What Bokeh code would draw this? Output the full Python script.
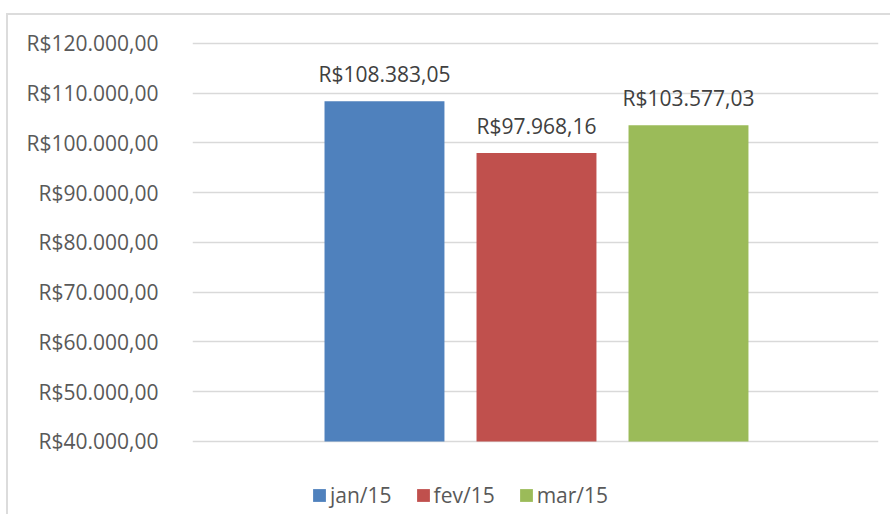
from bokeh.plotting import figure
from bokeh.models import ColumnDataSource, Range1d, FixedTicker, Legend, LegendItem, LabelSet
from bokeh.core.properties import value
from bokeh.embed import file_html
from bokeh.resources import INLINE

# ---- data ----
months = ["jan/15", "fev/15", "mar/15"]
revenue = [108383.05, 97968.16, 103577.03]
colors = ["#4F81BD", "#C0504D", "#9BBB59"]
y_ticks = [40000, 50000, 60000, 70000, 80000, 90000, 100000, 110000, 120000]
baseline = 40000


def brl(v):
    s = f"{v:,.2f}"
    s = s.replace(",", "X").replace(".", ",").replace("X", ".")
    return "R$" + s


FONT = "Open Sans"
FS = "21px"

src = ColumnDataSource(dict(
    x=list(range(len(months))),
    top=revenue,
    label=[brl(v) for v in revenue],
))

p = figure(
    width=884, height=501,
    output_backend="svg", toolbar_location=None,
    x_range=Range1d(-1.263, 3.25),
    y_range=Range1d(24925, 121000),
    min_border_left=184, min_border_right=14,
    min_border_top=23, min_border_bottom=0,
    outline_line_color=None,
)
p.styles = {
    "border-left": "2px solid #dcdcdc",
    "border-top": "2px solid #dcdcdc",
    "margin-left": "6px",
    "margin-top": "13px",
}

renderers = []
for i, m in enumerate(months):
    view_src = ColumnDataSource(dict(x=[i], top=[revenue[i]]))
    r = p.vbar(x="x", top="top", bottom=baseline, width=0.789, source=view_src,
               fill_color=colors[i], line_color=None)
    renderers.append(r)

labels = LabelSet(x="x", y="top", text="label", source=src,
                  text_align="center", text_baseline="alphabetic", y_offset=19,
                  text_font=value(FONT), text_font_size=FS, text_color="#404040")
p.add_layout(labels)

# axes
p.xaxis.visible = False
p.yaxis.ticker = FixedTicker(ticks=y_ticks)
p.yaxis.major_label_overrides = {t: brl(t) for t in y_ticks}
p.yaxis.axis_line_color = None
p.yaxis.major_tick_line_color = None
p.yaxis.minor_tick_line_color = None
p.yaxis.major_label_standoff = 28
p.yaxis.major_label_text_font = FONT
p.yaxis.major_label_text_font_size = FS
p.yaxis.major_label_text_color = "#595959"

p.xgrid.grid_line_color = None
p.ygrid.ticker = FixedTicker(ticks=y_ticks)
p.ygrid.grid_line_color = "#d9d9d9"
p.ygrid.grid_line_width = 1.5

legend = Legend(
    items=[LegendItem(label=m, renderers=[r]) for m, r in zip(months, renderers)],
    orientation="horizontal",
    location=(119, 7),
    glyph_width=16, glyph_height=16,
    label_standoff=3, spacing=23, padding=0, margin=0,
    label_text_font=FONT, label_text_font_size=FS, label_text_color="#595959",
    background_fill_alpha=0, border_line_color=None,
)
p.add_layout(legend, "center")

open("out.html", "w").write(file_html(p, INLINE))
